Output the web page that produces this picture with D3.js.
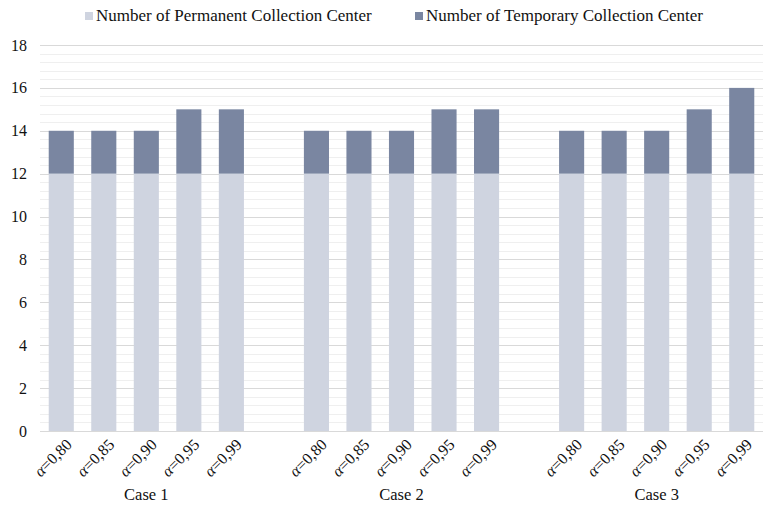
<!DOCTYPE html>
<html><head><meta charset="utf-8">
<script src="https://cdn.jsdelivr.net/npm/d3@7"></script>
<style>body{margin:0;background:#fff}svg{display:block}</style>
</head><body><svg id="c" width="772" height="511"></svg>
<script>
const cases = ["Case 1","Case 2","Case 3"];
const alphas = ["0,80","0,85","0,90","0,95","0,99"];
const permanent = [[12,12,12,12,12],[12,12,12,12,12],[12,12,12,12,12]];
const temporary = [[2,2,2,3,3],[2,2,2,3,3],[2,2,2,3,4]];
const seriesNames = ["Number of Permanent Collection Center","Number of Temporary Collection Center"];
const colors = ["#cfd4e0","#7a86a1"];
const yTicks = [0,2,4,6,8,10,12,14,16,18];

const FONT = "'Liberation Serif', 'Times New Roman', serif";
const svg = d3.select("#c");
const m = {l:40, r:9, t:45, b:80};
const W = 772, H = 511;
const slots = [];
cases.forEach((c,ci)=>{ if(ci>0) slots.push("gap"+ci); alphas.forEach(a=>slots.push(c+"|"+a)); });
const x = d3.scaleBand().domain(slots).range([m.l, W-m.r]).paddingInner(0.41).paddingOuter(0.205);
const y = d3.scaleLinear().domain([0,18]).range([H-m.b, m.t]);

const minor = d3.range(0, 18.001, 0.4).filter(v=>Math.abs(v/2-Math.round(v/2))>1e-6);
svg.append("g").selectAll("line").data(minor).join("line")
  .attr("x1", m.l).attr("x2", W-m.r).attr("y1", d=>Math.round(y(d))+0.5).attr("y2", d=>Math.round(y(d))+0.5)
  .attr("stroke","#efefef").attr("stroke-width",1);
svg.append("g").selectAll("line").data(yTicks).join("line")
  .attr("x1", m.l).attr("x2", W-m.r).attr("y1", d=>Math.round(y(d))+0.5).attr("y2", d=>Math.round(y(d))+0.5)
  .attr("stroke","#d9d9d9").attr("stroke-width",1);

const rows = [];
cases.forEach((c,ci)=>alphas.forEach((a,ai)=>rows.push({key:c+"|"+a, a:a, p:permanent[ci][ai], t:temporary[ci][ai]})));
svg.append("g").selectAll("rect").data(rows).join("rect").attr("x", d=>x(d.key)).attr("width", x.bandwidth())
  .attr("y", d=>y(d.p)).attr("height", d=>y(0)-y(d.p)).attr("fill", colors[0]);
svg.append("g").selectAll("rect").data(rows).join("rect").attr("x", d=>x(d.key)).attr("width", x.bandwidth())
  .attr("y", d=>y(d.p+d.t)).attr("height", d=>y(d.p)-y(d.p+d.t)).attr("fill", colors[1]);

svg.append("g").selectAll("text").data(yTicks).join("text")
  .attr("x", 27).attr("y", d=>y(d)+5.5).attr("text-anchor","end")
  .style("font-family",FONT).style("font-size","16px").attr("fill","#111").text(d=>d);

// rotated category labels
const xg = svg.append("g");
rows.forEach(d=>{
  const cx = x(d.key)+x.bandwidth()/2+8, cy = y(0)+11;
  const t = xg.append("text")
    .attr("transform", `translate(${cx},${cy}) rotate(-45)`)
    .attr("x",0).attr("y",5).attr("text-anchor","end")
    .style("font-family",FONT).style("font-size","16px").attr("fill","#111");
  t.append("tspan").style("font-style","italic").text("α");
  t.append("tspan").text("=" + d.a);
});

svg.append("g").selectAll("text").data(cases).join("text")
  .attr("x", c=>x(c+"|"+alphas[2])+x.bandwidth()/2).attr("y", 500).attr("text-anchor","middle")
  .style("font-family",FONT).style("font-size","16.5px").attr("fill","#111").text(c=>c);

const lx = [85, 415];
const lg = svg.append("g").selectAll("g").data(seriesNames).join("g").attr("transform",(d,i)=>`translate(${lx[i]},0)`);
lg.append("rect").attr("x",0).attr("y",12).attr("width",8).attr("height",8).attr("fill",(d,i)=>colors[i]);
lg.append("text").attr("x",11).attr("y",21).style("font-family",FONT).style("font-size","17px").attr("fill","#111").text(d=>d);
</script></body></html>
